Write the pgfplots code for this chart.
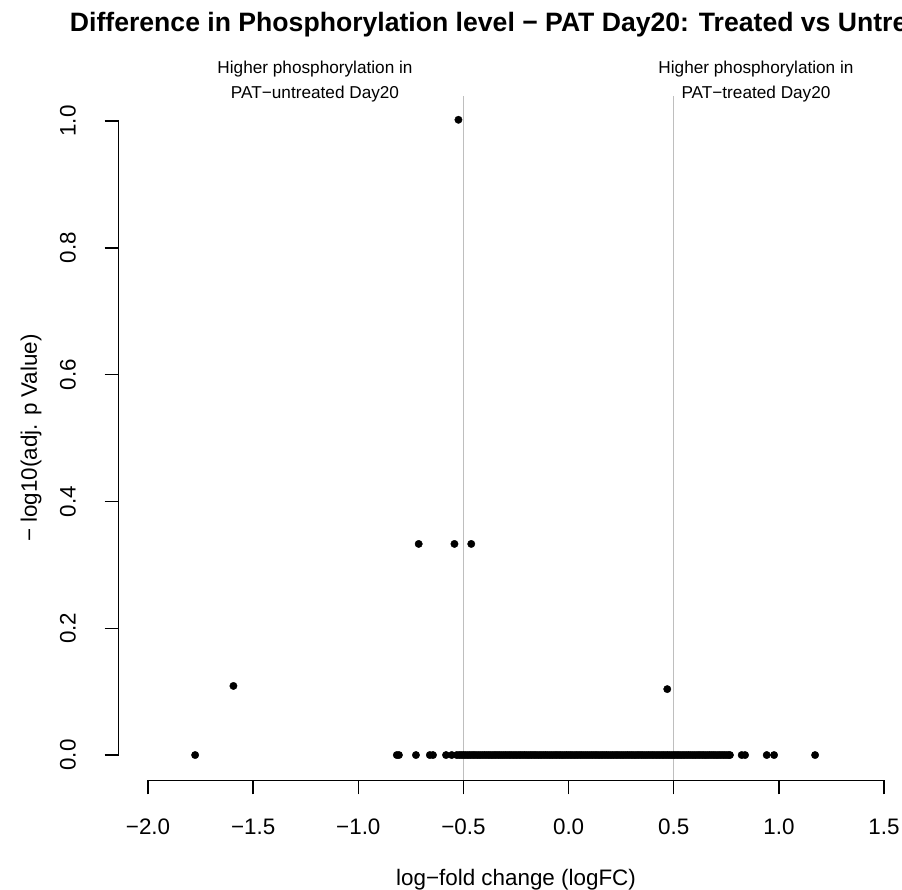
\documentclass[border=0pt]{standalone}
\usepackage{pgfplots}
\pgfplotsset{compat=1.18}
\usepackage{fontspec}
\setmainfont{Liberation Sans}
\definecolor{rgrey}{RGB}{190,190,190}
\begin{document}
\begin{tikzpicture}[x=1bp,y=1bp]
\begin{axis}[
  at={(0,0)}, anchor=south west,
  scale only axis,
  width=794.9bp, height=684.7bp,
  xmin=-2.14, xmax=1.64, ymin=-0.04, ymax=1.04,
  axis lines*=left,
  axis line style={draw=none},
  xtick={-2,-1.5,-1,-0.5,0,0.5,1,1.5},
  xticklabels={−2.0,−1.5,−1.0,−0.5,0.0,0.5,1.0,1.5},
  ytick={0,0.2,0.4,0.6,0.8,1.0},
  yticklabels={0.0,0.2,0.4,0.6,0.8,1.0},
  tick align=outside,
  major tick length=14bp,
  tick style={black, line width=1.4bp},
  ticklabel style={font=\fontsize{22.4bp}{27bp}\selectfont},
  xticklabel style={anchor=center},
  yticklabel style={rotate=90, anchor=center},
  xticklabel shift=32.6bp,
  yticklabel shift=36.6bp,
  xlabel={log−fold change (logFC)},
  ylabel={− log10(adj. p Value)},
  label style={font=\fontsize{22.4bp}{27bp}\selectfont},
  xlabel style={at={(axis description cs:0.5,0)}, anchor=center, yshift=-99.6bp},
  ylabel style={at={(axis description cs:0,0.5)}, anchor=center, yshift=87.6bp},
  clip=false,
]
\addplot[only marks, mark=*, mark size=3.7bp, black] coordinates {
(-1.776,0) (-1.594,0.109) (-0.817,0) (-0.807,0) (-0.726,0) (-0.660,0) (-0.645,0) (-0.583,0) (-0.556,0) (-0.532,0)
(-0.52,0) (-0.51,0) (-0.50,0) (-0.49,0) (-0.48,0) (-0.47,0) (-0.46,0) (-0.45,0) (-0.44,0) (-0.43,0)
(-0.42,0) (-0.41,0) (-0.40,0) (-0.39,0) (-0.38,0) (-0.37,0) (-0.36,0) (-0.35,0) (-0.34,0) (-0.33,0)
(-0.32,0) (-0.31,0) (-0.30,0) (-0.29,0) (-0.28,0) (-0.27,0) (-0.26,0) (-0.25,0) (-0.24,0) (-0.23,0)
(-0.22,0) (-0.21,0) (-0.20,0) (-0.19,0) (-0.18,0) (-0.17,0) (-0.16,0) (-0.15,0) (-0.14,0) (-0.13,0)
(-0.12,0) (-0.11,0) (-0.10,0) (-0.09,0) (-0.08,0) (-0.07,0) (-0.06,0) (-0.05,0) (-0.04,0) (-0.03,0)
(-0.02,0) (-0.01,0) (0.00,0) (0.01,0) (0.02,0) (0.03,0) (0.04,0) (0.05,0) (0.06,0) (0.07,0)
(0.08,0) (0.09,0) (0.10,0) (0.11,0) (0.12,0) (0.13,0) (0.14,0) (0.15,0) (0.16,0) (0.17,0)
(0.18,0) (0.19,0) (0.20,0) (0.21,0) (0.22,0) (0.23,0) (0.24,0) (0.25,0) (0.26,0) (0.27,0)
(0.28,0) (0.29,0) (0.30,0) (0.31,0) (0.32,0) (0.33,0) (0.34,0) (0.35,0) (0.36,0) (0.37,0)
(0.38,0) (0.39,0) (0.40,0) (0.41,0) (0.42,0) (0.43,0) (0.44,0) (0.45,0) (0.46,0) (0.47,0)
(0.48,0) (0.49,0) (0.50,0) (0.51,0) (0.52,0) (0.53,0) (0.54,0) (0.55,0) (0.56,0) (0.57,0)
(0.58,0) (0.59,0) (0.60,0) (0.61,0) (0.62,0) (0.63,0) (0.64,0) (0.65,0) (0.66,0) (0.67,0)
(0.68,0) (0.69,0) (0.70,0) (0.71,0) (0.72,0) (0.73,0) (0.74,0) (0.75,0) (0.76,0) (0.767,0)
(0.823,0) (0.839,0) (0.942,0) (0.977,0) (1.172,0)
(-0.524,1.002) (-0.713,0.333) (-0.543,0.333) (-0.463,0.333) (0.469,0.104)
};
\addplot[rgrey, line width=1.4bp, no marks] coordinates {(-0.5,-0.04) (-0.5,1.04)};
\addplot[rgrey, line width=1.4bp, no marks] coordinates {(0.5,-0.04) (0.5,1.04)};
\draw[black, line width=1.4bp] (axis cs:-2,-0.04) -- (axis cs:1.5,-0.04);
\draw[black, line width=1.4bp] (axis cs:-2.14,0) -- (axis cs:-2.14,1);
\node[font=\fontsize{26.6bp}{32bp}\selectfont\bfseries, anchor=center] at (axis description cs:0.5,1) [yshift=70.6bp] {Difference in Phosphorylation level − PAT Day20: Treated vs Untreated};
\node[font=\fontsize{17.2bp}{20bp}\selectfont, anchor=center] at (axis cs:-1.206,1.082) {Higher phosphorylation in};
\node[font=\fontsize{17.2bp}{20bp}\selectfont, anchor=center] at (axis cs:-1.206,1.0426) {PAT−untreated Day20};
\node[font=\fontsize{17.2bp}{20bp}\selectfont, anchor=center] at (axis cs:0.891,1.082) {Higher phosphorylation in};
\node[font=\fontsize{17.2bp}{20bp}\selectfont, anchor=center] at (axis cs:0.891,1.0426) {PAT−treated Day20};
\end{axis}
\pgfresetboundingbox
\path (-118.6bp,-109.6bp) rectangle (783.4bp,780.4bp);
\end{tikzpicture}
\end{document}
